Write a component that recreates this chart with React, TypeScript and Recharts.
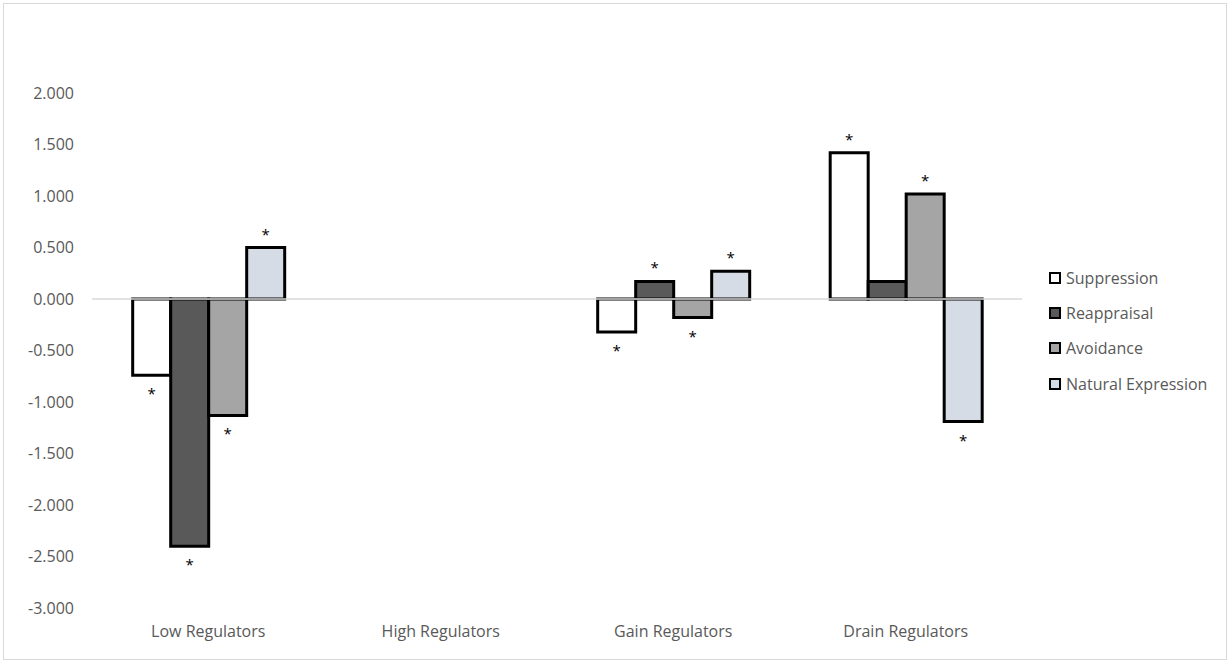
import React from "react"
import { Bar, BarChart, LabelList, ReferenceLine, XAxis, YAxis } from "recharts"

const categories = ["Low Regulators", "High Regulators", "Gain Regulators", "Drain Regulators"]
const seriesNames = ["Suppression", "Reappraisal", "Avoidance", "Natural Expression"]
const seriesColors = ["#ffffff", "#595959", "#a5a5a5", "#d6dce5"]

const suppression = [-0.74, 0, -0.32, 1.42]
const reappraisal = [-2.4, 0, 0.17, 0.17]
const avoidance = [-1.13, 0, -0.18, 1.02]
const naturalExpression = [0.5, 0, 0.27, -1.19]

// significance markers (*) per series and category
const suppressionSig = [true, false, true, true]
const reappraisalSig = [true, false, true, false]
const avoidanceSig = [true, false, true, true]
const naturalExpressionSig = [true, false, true, true]

const yTicks = [2, 1.5, 1, 0.5, 0, -0.5, -1, -1.5, -2, -2.5, -3]

const FONT = "'Open Sans', sans-serif"
const TEXT = "#595959"

const seriesValues = [suppression, reappraisal, avoidance, naturalExpression]
const seriesSig = [suppressionSig, reappraisalSig, avoidanceSig, naturalExpressionSig]
const keys = ["s0", "s1", "s2", "s3"]

// star fields hold the bar value only where a marker is drawn
const data = categories.map((name, i) => {
  const row: Record<string, string | number | null> = { name }
  seriesValues.forEach((vals, k) => {
    row[keys[k]] = vals[i]
    row[keys[k] + "star"] = seriesSig[k][i] ? vals[i] : null
  })
  return row
})

const renderStar = (props: any) => {
  const { x, y, width, height, value } = props
  if (value === null || value === undefined) return null
  const top = Math.min(y, y + height)
  const bottom = Math.max(y, y + height)
  const cy = value >= 0 ? top - 14 : bottom + 18
  return (
    <text
      x={x + width / 2}
      y={cy}
      textAnchor="middle"
      dominantBaseline="central"
      fontSize={15}
      fontFamily={FONT}
      fill="#000"
    >
      *
    </text>
  )
}

export default function App() {
  return (
    <div style={{ position: "absolute", left: 0, top: 0, width: 1230, height: 661, background: "#fff" }}>
      <div
        style={{
          position: "absolute",
          left: 3,
          top: 3,
          width: 1224,
          height: 657,
          border: "1px solid #d9d9d9",
          boxSizing: "border-box",
        }}
      />
      <div style={{ position: "absolute", left: 0, top: 0 }}>
        <BarChart
          width={1230}
          height={661}
          data={data}
          margin={{ top: 93, right: 208, bottom: 13, left: 0 }}
          barCategoryGap="17.5%"
          barGap={0}
        >
          <XAxis
            dataKey="name"
            axisLine={false}
            tickLine={false}
            tickSize={0}
            tickMargin={18}
            height={40}
            interval={0}
            tick={{ fill: TEXT, fontSize: 16, fontFamily: FONT }}
          />
          <YAxis
            domain={[-3, 2]}
            ticks={yTicks}
            axisLine={false}
            tickLine={false}
            tickSize={0}
            tickMargin={18}
            width={92}
            tickFormatter={(v: number) => v.toFixed(3)}
            tick={{ fill: TEXT, fontSize: 16, fontFamily: FONT }}
          />
          <ReferenceLine y={0} stroke="#d9d9d9" strokeWidth={1.5} />
          {keys.map((k, i) => (
            <Bar
              key={k}
              dataKey={k}
              name={seriesNames[i]}
              fill={seriesColors[i]}
              stroke="#000"
              strokeWidth={3}
              isAnimationActive={false}
            >
              <LabelList dataKey={k + "star"} content={renderStar} />
            </Bar>
          ))}
        </BarChart>
      </div>
      <div style={{ position: "absolute", left: 1049, top: 260, fontFamily: FONT, fontSize: 16, color: TEXT }}>
        {seriesNames.map((n, i) => (
          <div key={n} style={{ display: "flex", alignItems: "center", height: 35.3 }}>
            <span
              style={{
                display: "inline-block",
                width: 12,
                height: 12,
                border: "2px solid #000",
                boxSizing: "border-box",
                background: seriesColors[i],
                marginRight: 5,
              }}
            />
            {n}
          </div>
        ))}
      </div>
    </div>
  )
}
